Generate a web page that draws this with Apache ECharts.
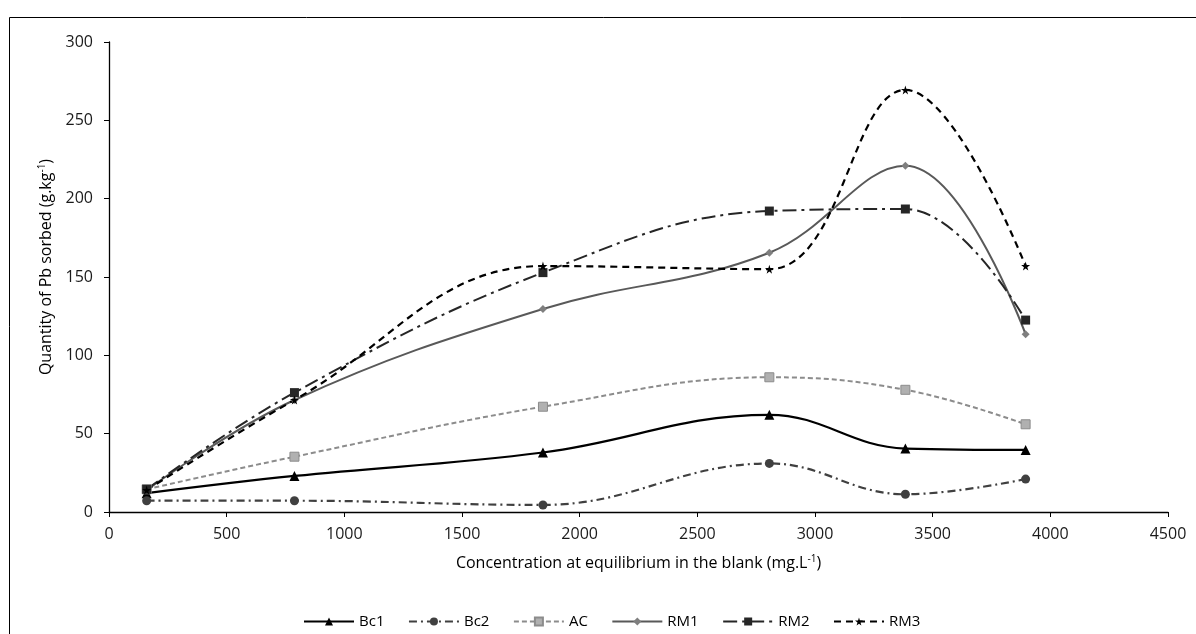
<!DOCTYPE html>
<html>
<head>
<meta charset="utf-8">
<script src="https://cdn.jsdelivr.net/npm/echarts@6/dist/echarts.min.js"></script>
<style>
html, body { margin: 0; padding: 0; background: #fff; }
#main { width: 1196px; height: 634px; }
</style>
</head>
<body>
<div id="main"></div>
<script>
var xData = [160, 788, 1844, 2806, 3384, 3895]
var bc1 = [12, 23, 38, 62, 40.5, 39.6]
var bc2 = [7.2, 7.2, 4.5, 31, 11.3, 21]
var ac = [14.5, 35.3, 67.2, 86, 78, 56]
var rm1 = [14, 71.5, 129.6, 165.5, 221, 113.4]
var rm2 = [14.5, 76.2, 152.8, 192.1, 193.4, 122.5]
var rm3 = [14, 71.5, 157, 155, 269.4, 157]

var chart = echarts.init(document.getElementById('main'))
var font = '"Open Sans", "Noto Sans", sans-serif'
var star = 'path://M50,0 L61,35 L98,35 L68,57 L79,91 L50,70 L21,91 L32,57 L2,35 L39,35 Z'

function pairs(ys) {
    return ys.map(function (y, i) { return [xData[i], y] })
}

function line(name, ys, color, type, width, symbol, size, symColor, border) {
    return {
        name: name,
        type: 'line',
        data: pairs(ys),
        smooth: 0.4,
        symbol: symbol,
        symbolSize: size,
        showSymbol: true,
        itemStyle: { color: symColor || color, borderWidth: border ? 1 : 0, borderColor: border || color },
        lineStyle: { color: color, width: width, type: type },
        emphasis: { disabled: true }
    }
}

var sup = { fontSize: 10, verticalAlign: 'top', padding: [0, 0, 8, 0], fontFamily: font, color: '#000' }

var option = {
    backgroundColor: '#fff',
    animation: false,
    textStyle: { fontFamily: font },
    graphic: [{
        type: 'rect',
        shape: { x: 9.5, y: 17.5, width: 1300, height: 800 },
        style: { fill: 'none', stroke: '#000', lineWidth: 1 },
        silent: true
    }],
    grid: { left: 109, right: 28, top: 42, bottom: 122 },
    legend: {
        top: 609,
        left: 298,
        itemWidth: 50,
        itemHeight: 10,
        itemGap: 23.5,
        textStyle: { fontFamily: font, fontSize: 15, color: '#000' },
        data: ['Bc1', 'Bc2', 'AC', 'RM1', 'RM2', 'RM3']
    },
    xAxis: {
        type: 'value',
        min: 0, max: 4500, interval: 500,
        name: 'Concentration at equilibrium in the blank (mg.L{sup|-1})',
        nameLocation: 'middle',
        nameGap: 42,
        nameTextStyle: { fontFamily: font, fontSize: 16, color: '#000', rich: { sup: sup } },
        axisLine: { lineStyle: { color: '#000', width: 1.3 } },
        axisTick: { show: true, length: 5, lineStyle: { color: '#000' } },
        axisLabel: {
            fontSize: 16, color: '#1a1a1a', margin: 14, fontFamily: font,
            formatter: function (v) { return String(v) }
        },
        splitLine: { show: false }
    },
    yAxis: {
        type: 'value',
        min: 0, max: 300, interval: 50,
        name: 'Quantity of Pb sorbed (g.kg{sup|-1})',
        nameLocation: 'middle',
        nameGap: 54,
        nameTextStyle: { fontFamily: font, fontSize: 16, color: '#000', rich: { sup: sup }, padding: [0, 0, 0, 20] },
        axisLine: { show: true, lineStyle: { color: '#000', width: 1.3 } },
        axisTick: { show: true, length: 5, lineStyle: { color: '#000' } },
        axisLabel: { fontSize: 16, color: '#1a1a1a', margin: 16, fontFamily: font },
        splitLine: { show: false }
    },
    series: [
        line('Bc1', bc1, '#000000', 'solid', 2.2, 'triangle', 10),
        line('Bc2', bc2, '#404040', [8, 4, 2, 4], 2.2, 'circle', 9),
        line('AC', ac, '#8c8c8c', [5, 3], 2, 'rect', 9, '#b0b0b0', '#8c8c8c'),
        line('RM1', rm1, '#595959', 'solid', 2, 'diamond', 8, '#7f7f7f'),
        line('RM2', rm2, '#262626', [14, 5, 3, 5], 2, 'rect', 9),
        line('RM3', rm3, '#000000', [7, 5], 2.2, star, 9)
    ]
}

chart.setOption(option)
</script>
</body>
</html>
